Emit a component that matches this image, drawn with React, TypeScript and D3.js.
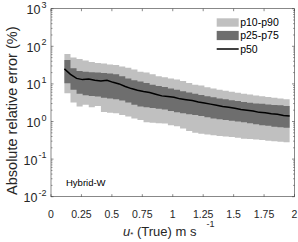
import * as d3 from "d3";

// u* (True) sample positions, m s^-1
const ustar = [
  0.11, 0.16, 0.21, 0.26, 0.31, 0.36, 0.41, 0.46, 0.51, 0.56, 0.61, 0.66, 0.71,
  0.76, 0.81, 0.86, 0.91, 0.96, 1.01, 1.06, 1.11, 1.16, 1.21, 1.26, 1.31, 1.36,
  1.41, 1.46, 1.51, 1.56, 1.61, 1.66, 1.71, 1.76, 1.81, 1.86, 1.91, 1.96,
];

// percentiles of absolute relative error (%)
const p90 = [
  62, 50, 46, 42, 38, 36, 35, 33, 32, 29, 27, 24, 21, 20, 18, 16, 15, 14, 13,
  12, 10.5, 9.5, 9, 8.2, 7.6, 7, 6.6, 6.2, 5.8, 5.5, 5.2, 4.9, 4.7, 4.5, 4.3,
  4.1, 3.9, 3.8,
];
const p75 = [
  43, 26, 22, 21, 20.5, 20, 19.5, 19, 18, 16, 14, 12.5, 11.5, 10.5, 9.5, 8.8,
  8.3, 7.6, 7, 6.4, 5.9, 5.5, 5.1, 4.7, 4.4, 4.1, 3.9, 3.7, 3.5, 3.3, 3.15, 3.0,
  2.95, 2.85, 2.75, 2.7, 2.6, 2.55,
];
const p50 = [
  25, 18, 14, 13, 13.5, 12.5, 12, 12.5, 11, 10, 8.5, 7.5, 6.8, 6.3, 5.9, 5.3,
  4.8, 4.6, 4.4, 4, 3.8, 3.6, 3.3, 3.1, 2.9, 2.7, 2.5, 2.4, 2.25, 2.1, 2.0, 1.9,
  1.75, 1.7, 1.6, 1.55, 1.45, 1.4,
];
const p25 = [
  10.4, 7, 5.5, 5, 4.8, 4.6, 4.3, 4.1, 3.9, 3.6, 3.2, 2.8, 2.5, 2.4, 2.3, 2.2,
  2.1, 1.9, 1.75, 1.65, 1.55, 1.5, 1.4, 1.3, 1.2, 1.15, 1.1, 1.05, 1.0, 0.95,
  0.9, 0.85, 0.8, 0.77, 0.73, 0.7, 0.68, 0.66,
];
const p10 = [
  5.6, 3.2, 2.5, 2.8, 2.4, 2.6, 1.8, 1.7, 1.65, 1.5, 1.35, 1.2, 1.1, 0.95,
  0.92, 0.9, 0.88, 0.8, 0.75, 0.65, 0.56, 0.5, 0.47, 0.45, 0.43, 0.41, 0.4,
  0.39, 0.37, 0.35, 0.34, 0.33, 0.32, 0.31, 0.3, 0.29, 0.28, 0.28,
];

const xTicks = [0, 0.25, 0.5, 0.75, 1, 1.25, 1.5, 1.75, 2];
const xTickLabels = ["0", "0.25", "0.5", "0.75", "1", "1.25", "1.5", "1.75", "2"];
const yExponents = [-2, -1, 0, 1, 2, 3];
const legendLabels = ["p10-p90", "p25-p75", "p50"];

const W = 298;
const H = 242;
const font = "'Liberation Sans', Arial, Helvetica, sans-serif";
const axisColor = "#3a3a3a";
const lightGray = "#c0c0c0";
const darkGray = "#6e6e6e";

export default function App() {
  const x = d3.scaleLinear().domain([0, 2]).range([51, 294.5]);
  const y = d3.scaleLog().domain([1e-2, 1e3]).range([196.7, 8.7]);
  const [x0, x1] = x.range();
  const [y0, y1] = y.range();

  const idx = d3.range(ustar.length);
  const band = (lo: number[], hi: number[]) =>
    d3
      .area<number>()
      .curve(d3.curveStepAfter)
      .x((i) => x(ustar[i]))
      .y0((i) => y(lo[i]))
      .y1((i) => y(hi[i]))(idx) ?? "";
  const median =
    d3
      .line<number>()
      .x((i) => x(ustar[i]))
      .y((i) => y(p50[i]))(idx) ?? "";

  const minor: number[] = [];
  for (let e = -2; e < 3; e++) {
    for (let m = 2; m <= 9; m++) minor.push(m * Math.pow(10, e));
  }

  const legX = 216.7;
  const legY = [22.5, 35.5, 49];

  return (
    <svg
      width={W}
      height={H}
      style={{ position: "absolute", left: 0, top: 0, background: "#fff" }}
      fontFamily={font}
    >
      <path d={band(p10, p90)} fill={lightGray} />
      <path d={band(p25, p75)} fill={darkGray} />
      <path d={median} fill="none" stroke="#000" strokeWidth={1.5} />

      {/* box and ticks */}
      <rect
        x={x0}
        y={y1}
        width={x1 - x0}
        height={y0 - y1}
        fill="none"
        stroke={axisColor}
        strokeWidth={0.6}
      />
      {xTicks.map((t) => (
        <g key={"xt" + t} stroke={axisColor} strokeWidth={0.6}>
          <line x1={x(t)} x2={x(t)} y1={y0} y2={y0 - 2.5} />
          <line x1={x(t)} x2={x(t)} y1={y1} y2={y1 + 2.5} />
        </g>
      ))}
      {yExponents.map((e) => (
        <g key={"yt" + e} stroke={axisColor} strokeWidth={0.6}>
          <line x1={x0} x2={x0 + 2.5} y1={y(10 ** e)} y2={y(10 ** e)} />
          <line x1={x1} x2={x1 - 2.5} y1={y(10 ** e)} y2={y(10 ** e)} />
        </g>
      ))}
      {minor.map((v) => (
        <g key={"ym" + v} stroke={axisColor} strokeWidth={0.5}>
          <line x1={x0} x2={x0 + 1.5} y1={y(v)} y2={y(v)} />
          <line x1={x1} x2={x1 - 1.5} y1={y(v)} y2={y(v)} />
        </g>
      ))}

      {/* tick labels */}
      {xTicks.map((t, i) => (
        <text
          key={"xl" + t}
          x={x(t)}
          y={217.5}
          fontSize={10.5}
          textAnchor="middle"
          fill="#262626"
        >
          {xTickLabels[i]}
        </text>
      ))}
      {yExponents.map((e) => (
        <text
          key={"yl" + e}
          x={46.5}
          y={y(10 ** e) + 5.5}
          fontSize={12.5}
          textAnchor="end"
          fill="#262626"
        >
          10
          <tspan dx={1} dy={-6.5} fontSize={9}>
            {e}
          </tspan>
        </text>
      ))}

      {/* axis titles */}
      <text
        transform={`translate(17,${(y0 + y1) / 2 + 8}) rotate(-90)`}
        fontSize={14.5}
        textAnchor="middle"
        fill="#262626"
      >
        Absolute relative error (%)
      </text>
      <text x={123} y={236} fontSize={13} fill="#262626">
        <tspan fontStyle="italic">u</tspan>
        <tspan fontSize={8} dy={1}>
          *
        </tspan>
        <tspan dy={-1}> (True) m s</tspan>
        <tspan dx={10} dy={-9} fontSize={9}>
          -1
        </tspan>
      </text>

      {/* annotation */}
      <text x={66} y={186} fontSize={9.5} fill="#000">
        Hybrid-W
      </text>

      {/* legend */}
      <rect x={legX} y={legY[0] - 4.2} width={22} height={8.4} fill={lightGray} />
      <rect x={legX} y={legY[1] - 4.6} width={22} height={9.2} fill={darkGray} />
      <line
        x1={legX}
        x2={legX + 22}
        y1={legY[2]}
        y2={legY[2]}
        stroke="#000"
        strokeWidth={1.5}
      />
      {legendLabels.map((l, i) => (
        <text
          key={l}
          x={legX + 23.5}
          y={legY[i] + 3.8}
          fontSize={10.5}
          fill="#000"
        >
          {l}
        </text>
      ))}
    </svg>
  );
}
